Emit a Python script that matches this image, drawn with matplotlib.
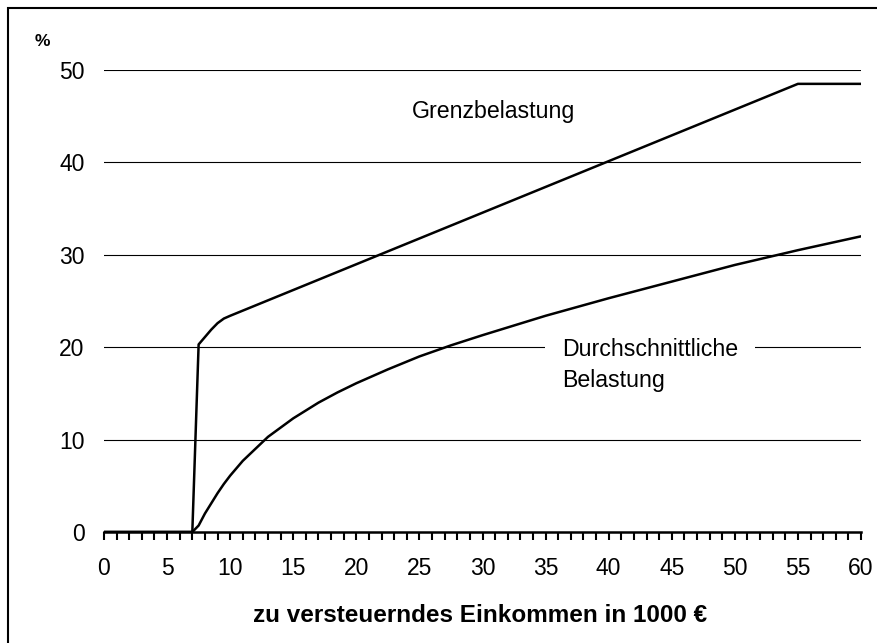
import matplotlib.pyplot as plt
from matplotlib.patches import Rectangle

# Einkommen in 1000 EUR
grenzX = [0, 7.0, 7.5, 8.0, 8.5, 9.0, 9.5, 10.0, 55.0, 60.0]
grenzY = [0, 0, 20.3, 21.1, 21.9, 22.6, 23.1, 23.4, 48.5, 48.5]

durchX = [0, 7.0, 7.5, 8, 8.5, 9, 9.5, 10, 11, 12, 13, 14, 15, 17, 18.5, 20,
          22.5, 25, 27.5, 30, 35, 40, 45, 50, 55, 60]
durchY = [0, 0, 0.7, 2.0, 3.1, 4.2, 5.2, 6.1, 7.7, 9.0, 10.3, 11.3, 12.3, 14.0, 15.1, 16.1,
          17.6, 19.0, 20.2, 21.3, 23.4, 25.3, 27.1, 28.9, 30.5, 32.0]

yTicks = [0, 10, 20, 30, 40, 50]
xTicks = list(range(0, 61, 5))

plt.rcParams['font.family'] = ['Liberation Sans', 'DejaVu Sans']

fig = plt.figure(figsize=(8.77, 6.43), dpi=100)
ax = fig.add_axes([104 / 877, 1 - 532 / 643, (861 - 104) / 877, (532 - 70) / 643])

# Gitterlinien
for yv in yTicks[1:]:
    ax.axhline(yv, color='black', lw=0.8, zorder=1)

ax.plot(grenzX, grenzY, color='black', lw=1.8, zorder=3)
ax.plot(durchX, durchY, color='black', lw=1.8, zorder=3)

ax.set_xlim(0, 60)
ax.set_ylim(0, 50)
for side in ['top', 'right', 'left']:
    ax.spines[side].set_visible(False)
ax.spines['bottom'].set_linewidth(1.8)
ax.spines['bottom'].set_zorder(4)

ax.set_xticks(xTicks)
ax.set_xticks(range(0, 61), minor=True)
ax.tick_params(axis='x', which='both', direction='out', length=6, width=1.5,
               labelsize=16.5, pad=12)
ax.set_yticks(yTicks)
ax.tick_params(axis='y', length=0, labelsize=16.5, pad=14)

ax.text(30.9, 45.5, 'Grenzbelastung', fontsize=16.7, ha='center', va='center', zorder=5)
ax.text(36.3, 21.0, 'Durchschnittliche\nBelastung', fontsize=16.7, ha='left', va='top',
        linespacing=1.45, zorder=5,
        bbox=dict(facecolor='white', edgecolor='none', pad=12))

fig.text(42 / 877, 1 - 42 / 643, '%', fontsize=12.5, fontweight='bold', ha='center', va='center')
fig.text(480 / 877, 1 - 615 / 643, 'zu versteuerndes Einkommen in 1000 €', fontsize=17.5,
         fontweight='bold', ha='center', va='center')

# Rahmen um die Grafik
fig.patches.append(Rectangle((8 / 877, -0.05), 1.2, 1.05 - 8 / 643, transform=fig.transFigure,
                             fill=False, edgecolor='black', lw=1.5))

fig.savefig('out.png', dpi=100)
